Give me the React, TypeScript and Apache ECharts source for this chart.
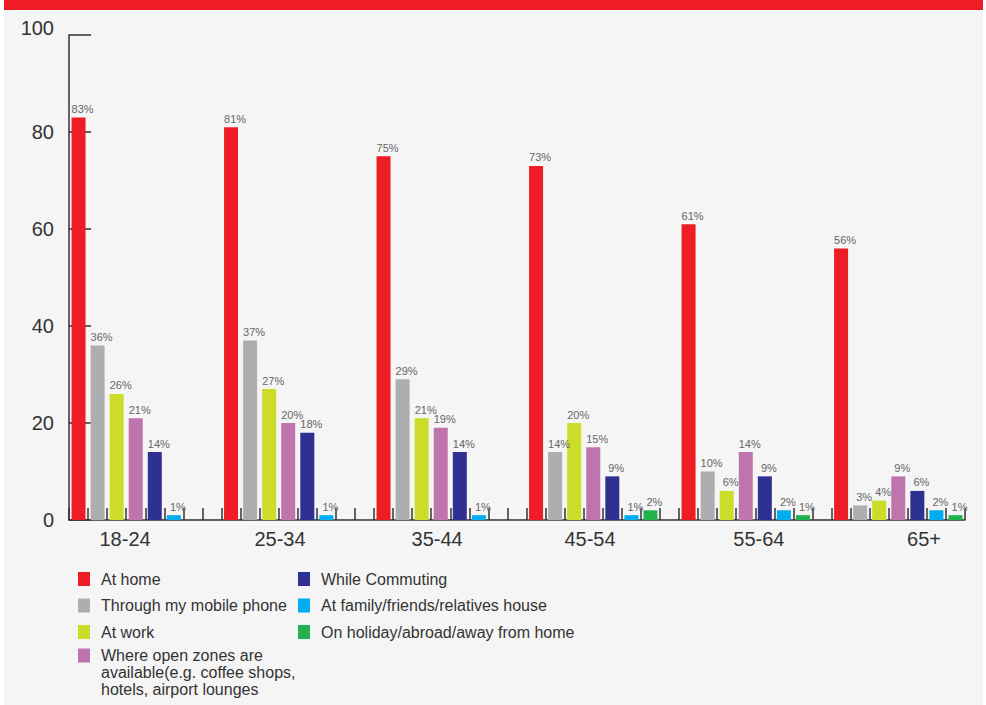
import React, { useEffect, useRef } from "react";
import * as echarts from "echarts";

// ---- data ----
const categories = ["18-24", "25-34", "35-44", "45-54", "55-64", "65+"];
const seriesNames = [
  "At home",
  "Through my mobile phone",
  "At work",
  "Where open zones are available(e.g. coffee shops, hotels, airport lounges",
  "While Commuting",
  "At family/friends/relatives house",
  "On holiday/abroad/away from home",
];
const atHome = [83, 81, 75, 73, 61, 56];
const mobilePhone = [36, 37, 29, 14, 10, 3];
const atWork = [26, 27, 21, 20, 6, 4];
const openZones = [21, 20, 19, 15, 14, 9];
const commuting = [14, 18, 14, 9, 9, 6];
const familyHouse = [1, 1, 1, 1, 2, 2];
const holiday: (number | null)[] = [null, null, null, 2, 1, 1];
const seriesValues = [atHome, mobilePhone, atWork, openZones, commuting, familyHouse, holiday];
const seriesColors = ["#ee1c25", "#adaeb0", "#cddb29", "#c074ae", "#2e3191", "#00adee", "#22b24c"];
const yTicks = { min: 0, max: 100, interval: 20 };
// label positions along the slot axis (in slot units)
const labelSlots = [2.94, 11.07, 19.31, 27.33, 36.19, 44.85];
// leading blank lines keep the icon on the first text line
const openZonesWrapped = "\n\nWhere open zones are\navailable(e.g. coffee shops,\nhotels, airport lounges";

const SLOTS_PER_GROUP = 8;
const slotCount = categories.length * SLOTS_PER_GROUP - 1;

function spread(values: (number | null)[], offset: number) {
  const arr: (number | string)[] = new Array(slotCount).fill("-");
  values.forEach((v, g) => {
    if (v !== null) arr[g * SLOTS_PER_GROUP + offset] = v;
  });
  return arr;
}

export default function App() {
  const ref = useRef<HTMLDivElement>(null);
  useEffect(() => {
    if (!ref.current) return;
    const chart = echarts.init(ref.current, null, { renderer: "svg" });
    const font = "'Liberation Sans', Arial, sans-serif";
    const legendText = {
      fontSize: 16,
      color: "#333",
      fontFamily: font,
      lineHeight: 17,
      padding: [0, 0, 0, 6],
    };
    const legendBase = {
      orient: "vertical",
      icon: "rect",
      itemWidth: 12,
      itemHeight: 14,
      itemGap: 9.5,
      padding: 0,
      selectedMode: false,
      textStyle: legendText,
    };
    chart.setOption({
      animation: false,
      backgroundColor: "#ffffff",
      graphic: [
        { type: "rect", z: -10, shape: { x: 4, y: 0, width: 979, height: 705 }, style: { fill: "#f5f5f5" } },
        { type: "rect", z: -9, shape: { x: 4, y: 0, width: 979, height: 10 }, style: { fill: "#ee1c25" } },
      ],
      grid: { left: 69, top: 35, width: 896, height: 485 },
      legend: [
        { ...legendBase, left: 78, top: 570.5, data: seriesNames.slice(0, 3) },
        {
          ...legendBase,
          left: 78,
          top: 613,
          data: [seriesNames[3]],
          formatter: () => openZonesWrapped,
        },
        { ...legendBase, left: 298, top: 570.5, data: seriesNames.slice(4) },
      ],
      xAxis: [
        {
          type: "category",
          data: Array.from({ length: slotCount }, (_, i) => String(i)),
          boundaryGap: true,
          axisLine: { show: true, lineStyle: { color: "#333", width: 1.5 } },
          axisTick: { show: true, interval: 0, inside: true, length: 12, lineStyle: { color: "#333", width: 1.5 } },
          axisLabel: { show: false },
          splitLine: { show: false },
        },
        {
          type: "value",
          position: "bottom",
          min: 0,
          max: slotCount,
          axisLine: { show: false },
          axisTick: { show: false },
          splitLine: { show: false },
          axisLabel: {
            customValues: labelSlots,
            fontSize: 20,
            color: "#333",
            fontFamily: font,
            margin: 9,
            formatter: (v: number) => {
              let best = 0;
              labelSlots.forEach((s, i) => {
                if (Math.abs(s - v) < Math.abs(labelSlots[best] - v)) best = i;
              });
              return categories[best];
            },
          },
        },
      ],
      yAxis: {
        type: "value",
        min: yTicks.min,
        max: yTicks.max,
        interval: yTicks.interval,
        axisLine: { show: true, lineStyle: { color: "#333", width: 1.5 } },
        axisTick: { show: true, inside: true, length: 22, lineStyle: { color: "#333", width: 1.5 } },
        axisLabel: {
          fontSize: 20,
          color: "#333",
          fontFamily: font,
          margin: 15,
          formatter: (v: number) => (v === yTicks.max ? `{hi|${v}}` : `${v}`),
          rich: { hi: { fontSize: 20, color: "#333", fontFamily: font, padding: [0, 0, 15, 0] } },
        },
        splitLine: { show: false },
      },
      series: seriesNames.map((name, i) => ({
        name,
        type: "bar",
        xAxisIndex: 0,
        barWidth: 14,
        barGap: "-100%",
        itemStyle: { color: seriesColors[i] },
        label: {
          show: true,
          position: "top",
          distance: 3,
          offset: [4, 0],
          fontSize: 11,
          color: "#666",
          textBorderWidth: 0,
          textBorderColor: "transparent",
          fontFamily: font,
          formatter: (p: any) => `${p.value}%`,
        },
        data: spread(seriesValues[i], i),
      })),
    });
    return () => chart.dispose();
  }, []);
  return (
    <div style={{ position: "absolute", left: 0, top: 0, width: 986, height: 705 }}>
      <div ref={ref} style={{ width: 986, height: 705 }} />
    </div>
  );
}
